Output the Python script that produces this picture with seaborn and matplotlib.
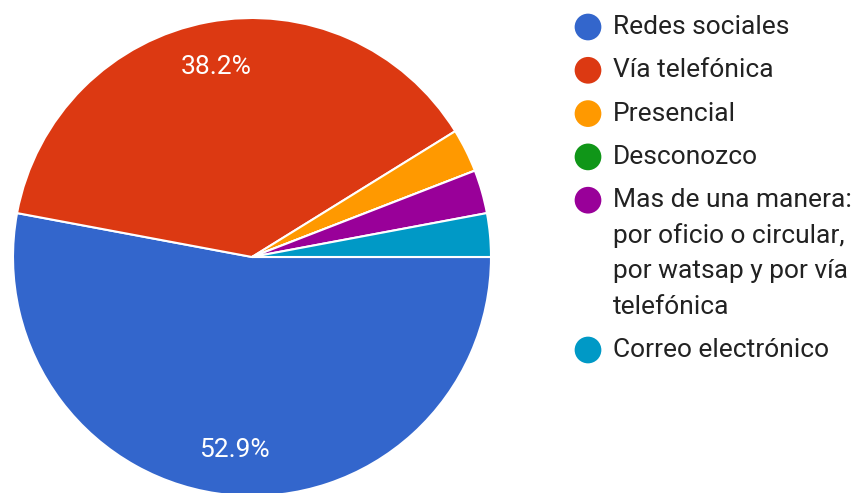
import matplotlib
matplotlib.use("Agg")
import matplotlib.pyplot as plt
import seaborn as sns

sns.set_theme(style="white")
plt.rcParams["font.family"] = ["Roboto", "DejaVu Sans"]

categories = [
    "Redes sociales",
    "Vía telefónica",
    "Presencial",
    "Desconozco",
    "Mas de una manera:\npor oficio o circular,\npor watsap y por vía\ntelefónica",
    "Correo electrónico",
]
counts = [18, 13, 1, 0, 1, 1]
colors = ["#3366cc", "#dc3912", "#ff9900", "#109618", "#990099", "#0099c6"]

W, H = 858, 493
fig = plt.figure(figsize=(W / 100, H / 100), dpi=100)
fig.patch.set_facecolor("white")
ax = fig.add_axes([0, 0, 1, 1])


def pct_label(p):
    return f"{p:.1f}%" if p >= 10 else ""


ax.pie(
    counts,
    colors=colors,
    startangle=0,
    counterclock=False,
    center=(252, H - 257),
    radius=239,
    autopct=pct_label,
    pctdistance=0.81,
    wedgeprops=dict(edgecolor="white", linewidth=1.5),
    textprops=dict(color="white", fontsize=19),
    frame=True,
)
ax.set_xlim(0, W)
ax.set_ylim(0, H)
ax.set_aspect("equal")
ax.axis("off")

# legend: colour dot beside the first line of each entry
dot_x, text_x = 588, 613
entry_gap, line_gap = 43.3, 35.5
y = 27.0
for label, color in zip(categories, colors):
    lines = label.split("\n")
    ax.scatter([dot_x], [H - y], s=370, color=color, edgecolors="none",
               zorder=3, clip_on=False)
    for i, line in enumerate(lines):
        ax.text(text_x, H - (y + i * line_gap), line, fontsize=19,
                color="#222222", va="center", ha="left")
    y += (len(lines) - 1) * line_gap + entry_gap

fig.savefig("out.png", dpi=100, facecolor="white")
